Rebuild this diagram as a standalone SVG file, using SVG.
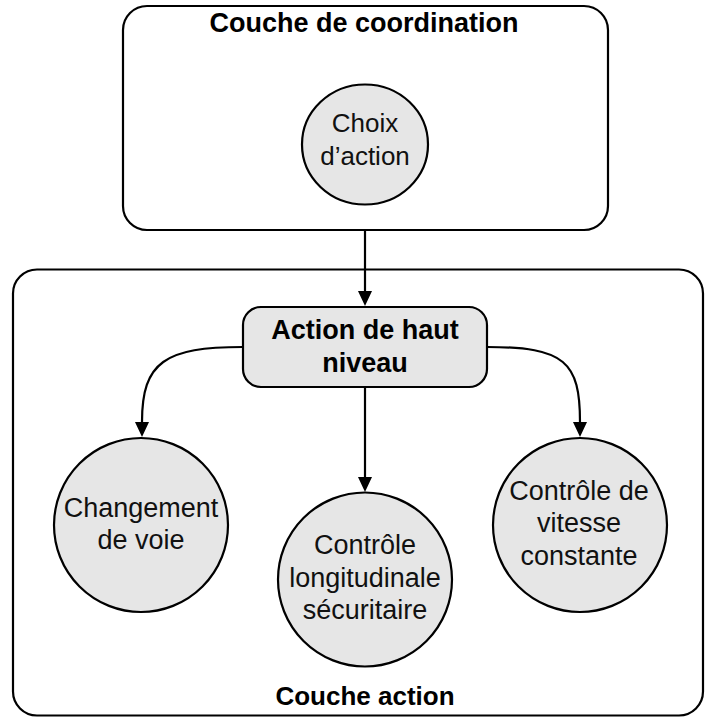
<svg xmlns="http://www.w3.org/2000/svg" width="705" height="717" viewBox="0 0 705 717">
<style>
.layer{fill:#ffffff;stroke:#000;stroke-width:2.2}
.node{fill:#e6e6e6;stroke:#000;stroke-width:2.2}
.title{font-family:"Liberation Sans",Arial,sans-serif;font-weight:bold;fill:#000;text-anchor:middle}
.lbl{font-family:"Liberation Sans",Arial,sans-serif;font-size:27px;fill:#111;text-anchor:middle}
.conn{fill:none;stroke:#000;stroke-width:2.2}
</style>
<defs>
<marker id="arrow" markerUnits="userSpaceOnUse" markerWidth="15" markerHeight="14" viewBox="0 0 15 14" refX="0" refY="7" orient="auto">
<path d="M0,0 L15,7 L0,14 z" fill="#000"/>
</marker>
</defs>
<g id="couche-coordination">
<rect class="layer" x="123" y="6" width="485" height="224" rx="24"/>
<text class="title" x="364" y="32" font-size="27">Couche de coordination</text>
</g>
<g id="couche-action">
<rect class="layer" x="13" y="269.5" width="690" height="446" rx="24"/>
<text class="title" x="365" y="705" font-size="26">Couche action</text>
</g>
<g id="choix-action">
<ellipse class="node" cx="365" cy="144.5" rx="63" ry="60"/>
<text class="lbl" x="365" y="131.5" font-size="26" style="font-size:26px">Choix</text>
<text class="lbl" x="365" y="164.5" style="font-size:26px">d’action</text>
</g>
<g id="action-haut-niveau">
<rect class="node" x="243" y="307" width="244" height="80" rx="18"/>
<text class="title" x="365" y="338.5" font-size="27">Action de haut</text>
<text class="title" x="365" y="372" font-size="27">niveau</text>
</g>
<g id="changement-voie">
<circle class="node" cx="141" cy="525" r="87"/>
<text class="lbl" x="141" y="517">Changement</text>
<text class="lbl" x="141" y="549">de voie</text>
</g>
<g id="controle-longitudinale">
<circle class="node" cx="365" cy="579.5" r="87"/>
<text class="lbl" x="365" y="554">Contrôle</text>
<text class="lbl" x="365" y="586.5">longitudinale</text>
<text class="lbl" x="365" y="618.5">sécuritaire</text>
</g>
<g id="controle-vitesse">
<circle class="node" cx="580" cy="525" r="87"/>
<text class="lbl" x="579" y="500">Contrôle de</text>
<text class="lbl" x="579" y="532">vitesse</text>
<text class="lbl" x="579" y="565">constante</text>
</g>
<g id="connectors">
<path class="conn" d="M365,230 L365,291" marker-end="url(#arrow)"/>
<path class="conn" d="M243,347 C165,347 142,362 142,422" marker-end="url(#arrow)"/>
<path class="conn" d="M365,387 L365,477" marker-end="url(#arrow)"/>
<path class="conn" d="M487,347 C565,347 580,362 580,422" marker-end="url(#arrow)"/>
</g>
</svg>
